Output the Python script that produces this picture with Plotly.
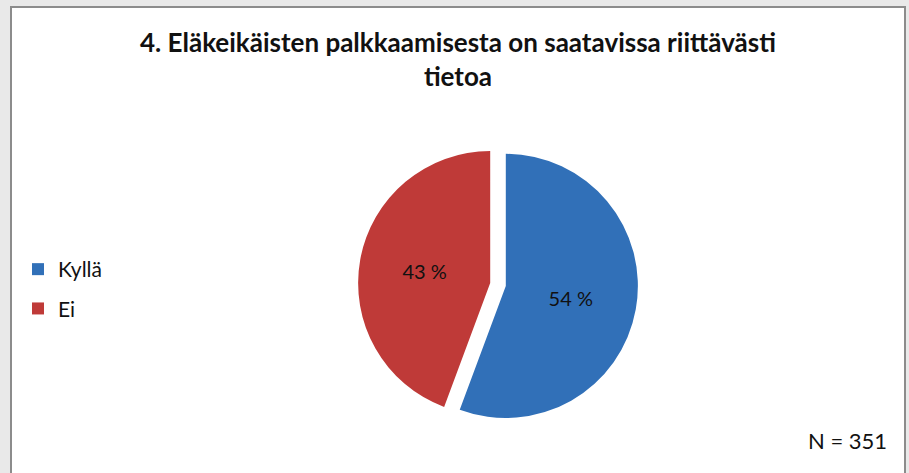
import plotly.graph_objects as go

W, H = 909, 473

labels = ["Kyllä", "Ei"]
values = [54, 43]
text_labels = ["54 %", "43 %"]
colors = ["#3170b8", "#bf3a38"]
title_text = "4. Eläkeikäisten palkkaamisesta on saatavissa riittävästi<br>tietoa"
note_text = "N = 351"

FONT = "Lato, 'Open Sans', sans-serif"

fig = go.Figure()

fig.add_trace(go.Pie(
    labels=labels,
    values=values,
    text=text_labels,
    textinfo="text",
    textposition="inside",
    insidetextorientation="horizontal",
    textfont=dict(size=20, color="#111111", family=FONT),
    marker=dict(colors=colors, line=dict(width=0)),
    sort=False,
    direction="clockwise",
    rotation=0,
    pull=[0.06, 0.06],
    showlegend=False,
    domain=dict(x=[358 / W, 638 / W], y=[(H - 426) / H, (H - 143) / H]),
    hoverinfo="label+percent",
))

# legend entries (square markers), one group per slice for spacing
for lab, col in zip(labels, colors):
    fig.add_trace(go.Scatter(
        x=[None], y=[None], mode="markers", name=lab,
        marker=dict(symbol="square", size=12, color=col),
        legendgroup=lab, showlegend=True,
    ))

fig.update_layout(
    width=W, height=H,
    margin=dict(l=0, r=0, t=0, b=0),
    paper_bgcolor="#e9e9e9",
    plot_bgcolor="rgba(0,0,0,0)",
    xaxis=dict(visible=False),
    yaxis=dict(visible=False),
    legend=dict(
        x=18 / W, xanchor="left",
        y=1 - 249 / H, yanchor="top",
        font=dict(size=21, color="#111111", family=FONT),
        tracegroupgap=9,
        itemwidth=30,
        bgcolor="rgba(0,0,0,0)",
    ),
    shapes=[
        dict(type="rect", xref="paper", yref="paper",
             x0=11 / W, x1=905 / W, y0=-0.05, y1=1 - 7 / H,
             line=dict(color="#8c8c8c", width=2), fillcolor="white",
             layer="below"),
    ],
    annotations=[
        dict(text=title_text, xref="paper", yref="paper",
             x=458 / W, y=1 - 59 / H, xanchor="center", yanchor="middle",
             showarrow=False,
             font=dict(size=26, color="#111111", family=FONT, weight="bold")),
        dict(text=note_text, xref="paper", yref="paper",
             x=889 / W, y=1 - 440 / H, xanchor="right", yanchor="middle",
             showarrow=False,
             font=dict(size=22, color="#111111", family=FONT)),
    ],
)

fig.write_html("out.html")
